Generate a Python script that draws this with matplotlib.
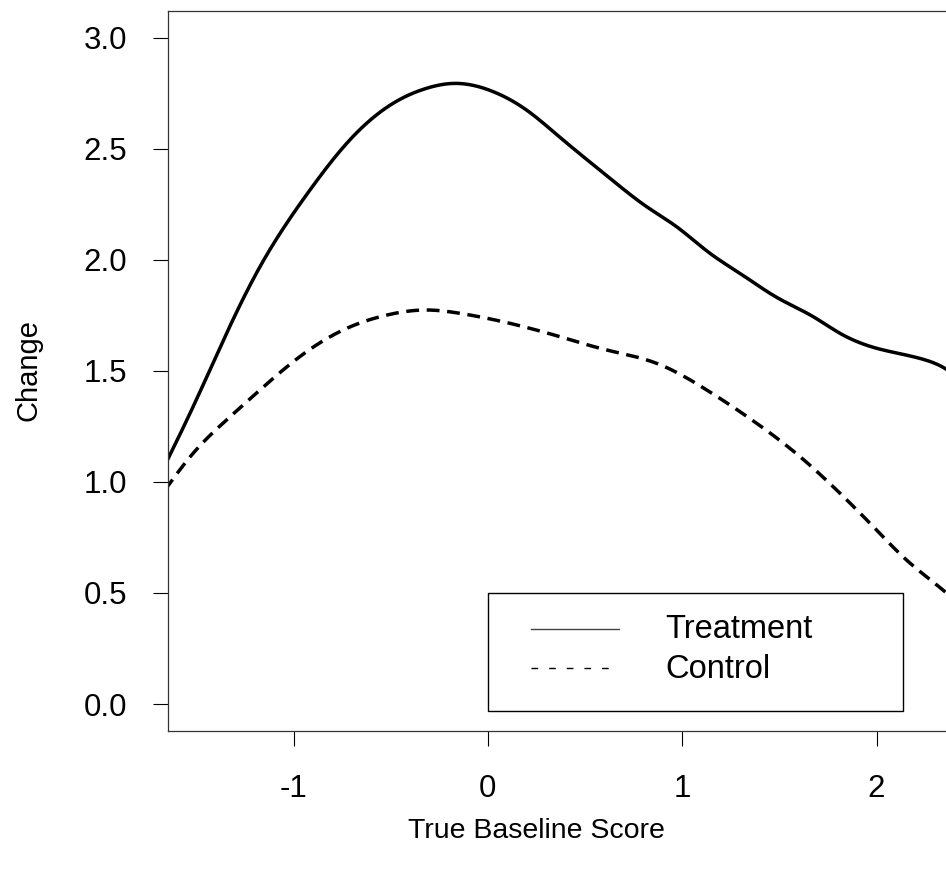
import matplotlib
matplotlib.use("Agg")
import matplotlib.pyplot as plt
from matplotlib.lines import Line2D
from matplotlib.patches import Rectangle
import numpy as np

plt.rcParams['font.family'] = ['Liberation Sans', 'DejaVu Sans']

# Data
treat_x = [-1.662, -1.517, -1.345, -1.173, -1.036, -0.916, -0.727, -0.487, -0.316, -0.178,
           0.027, 0.199, 0.37, 0.628, 0.817, 0.971, 1.143, 1.297, 1.486, 1.674,
           1.812, 1.983, 2.24, 2.352, 2.38]
treat_y = [1.076, 1.339, 1.669, 1.969, 2.164, 2.314, 2.524, 2.705, 2.772, 2.794,
           2.757, 2.674, 2.552, 2.367, 2.239, 2.149, 2.029, 1.939, 1.831, 1.744,
           1.669, 1.606, 1.552, 1.511, 1.495]
ctrl_x = [-1.662, -1.517, -1.345, -1.173, -0.968, -0.745, -0.521, -0.316, -0.144, 0.113,
          0.37, 0.611, 0.868, 1.126, 1.383, 1.606, 1.812, 1.983, 2.155, 2.352, 2.38]
ctrl_y = [0.964, 1.129, 1.279, 1.414, 1.564, 1.684, 1.751, 1.774, 1.759, 1.714,
          1.654, 1.594, 1.534, 1.414, 1.264, 1.114, 0.949, 0.799, 0.648, 0.506, 0.485]

x_ticks = [-1, 0, 1, 2]
x_ticklabels = ["-1", "0", "1", "2"]
y_ticks = [0.0, 0.5, 1.0, 1.5, 2.0, 2.5, 3.0]
y_ticklabels = ["0.0", "0.5", "1.0", "1.5", "2.0", "2.5", "3.0"]
series_names = ["Treatment", "Control"]

W, H = 946, 874
fig = plt.figure(figsize=(W / 100, H / 100), dpi=100)

left_px, right_px, top_px, bottom_px = 167.7, 974.0, 11.0, 730.7
ax = fig.add_axes([left_px / W, 1 - bottom_px / H, (right_px - left_px) / W, (bottom_px - top_px) / H])


def natural_spline(xs, ys, n=500):
    xs = np.asarray(xs, float); ys = np.asarray(ys, float)
    N = len(xs)
    h = np.diff(xs)
    A = np.zeros((N, N)); r = np.zeros(N)
    A[0, 0] = 1; A[-1, -1] = 1
    for i in range(1, N - 1):
        A[i, i - 1] = h[i - 1]
        A[i, i] = 2 * (h[i - 1] + h[i])
        A[i, i + 1] = h[i]
        r[i] = 3 * ((ys[i + 1] - ys[i]) / h[i] - (ys[i] - ys[i - 1]) / h[i - 1])
    c = np.linalg.solve(A, r)
    b = (ys[1:] - ys[:-1]) / h - h * (2 * c[:-1] + c[1:]) / 3
    d = (c[1:] - c[:-1]) / (3 * h)
    xx = np.linspace(xs[0], xs[-1], n)
    idx = np.clip(np.searchsorted(xs, xx) - 1, 0, N - 2)
    t = xx - xs[idx]
    yy = ys[idx] + b[idx] * t + c[idx] * t**2 + d[idx] * t**3
    return xx, yy


tx, ty = natural_spline(treat_x, treat_y)
cx, cy = natural_spline(ctrl_x, ctrl_y)
ax.plot(tx, ty, color='black', lw=2.5, solid_capstyle='butt')
ax.plot(cx, cy, color='black', lw=2.5, linestyle=(0, (3.7, 2.2)), dash_capstyle='butt')

ax.set_xlim(-1.648, -1.648 + (right_px - left_px) / 194.3)
ax.set_ylim(-0.12, 3.12)
ax.set_xticks(x_ticks)
ax.set_xticklabels(x_ticklabels)
ax.set_yticks(y_ticks)
ax.set_yticklabels(y_ticklabels)
ax.tick_params(axis='both', direction='out', length=10.8, width=0.8, labelsize=22.5, colors='black')
ax.tick_params(axis='x', pad=20.5)
ax.tick_params(axis='y', pad=18.5)
for s in ax.spines.values():
    s.set_linewidth(0.9)
    s.set_color('#333333')

fig.text(28 / W, 1 - 370 / H, "Change", rotation=90, ha='center', va='center', fontsize=21)
fig.text(536 / W, 1 - 831 / H, "True Baseline Score", ha='center', va='center', fontsize=20.5)


def fx(p): return p / W
def fy(p): return 1 - p / H


fig.add_artist(Rectangle((fx(488), fy(710.7)), fx(903) - fx(488), fy(593) - fy(710.7),
                         transform=fig.transFigure, fill=False, edgecolor='black', lw=1.0))
fig.add_artist(Line2D([fx(531), fx(619)], [fy(629), fy(629)], transform=fig.transFigure,
                      color='#444444', lw=1.0))
fig.add_artist(Line2D([fx(531), fx(612)], [fy(668), fy(668)], transform=fig.transFigure,
                      color='black', lw=1.0, linestyle=(0, (4.8, 7.9))))
fig.text(fx(665), fy(630), series_names[0], ha='left', va='center', fontsize=23.5)
fig.text(fx(665), fy(669), series_names[1], ha='left', va='center', fontsize=23.5)

fig.savefig("out.png", dpi=100)
